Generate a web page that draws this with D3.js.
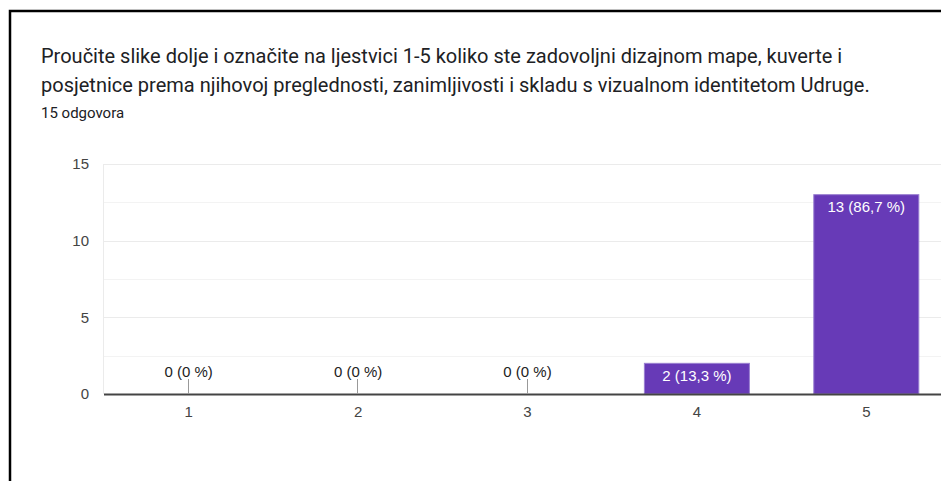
<!DOCTYPE html>
<html>
<head>
<meta charset="utf-8">
<script src="https://cdn.jsdelivr.net/npm/d3@7"></script>
<style>
  html, body { margin: 0; padding: 0; background: #fff; }
  svg { display: block; font-family: Roboto, "Noto Sans", Arial, sans-serif; }
</style>
</head>
<body>
<svg id="chart" width="941" height="481"></svg>
<script>
// Survey answers: rating scale 1-5, number of respondents per rating
const titleLines = [
  "Proučite slike dolje i označite na ljestvici 1-5 koliko ste zadovoljni dizajnom mape, kuverte i",
  "posjetnice prema njihovoj preglednosti, zanimljivosti i skladu s vizualnom identitetom Udruge."
];
const responsesLabel = "15 odgovora";
const categories = ["1", "2", "3", "4", "5"];
const counts = [0, 0, 0, 2, 13];
const percentLabels = ["0 %", "0 %", "0 %", "13,3 %", "86,7 %"];
const yTicks = [0, 5, 10, 15];
const yMinorTicks = [2.5, 7.5, 12.5];

const chartFont = "'Liberation Sans', Arial, sans-serif";
const svg = d3.select("#chart");
const W = 941, H = 481;

// card border (top and left edges visible)
svg.append("path")
  .attr("d", `M10,${H} L10,11 L${W},11`)
  .attr("fill", "none")
  .attr("stroke", "#000")
  .attr("stroke-width", 2.5);

// question title
svg.append("g").selectAll("text").data(titleLines).join("text")
  .attr("x", 41)
  .attr("y", (d, i) => 63 + i * 29)
  .attr("fill", "#202124")
  .attr("font-size", 20)
  .text(d => d);

svg.append("text")
  .attr("x", 41).attr("y", 118)
  .attr("fill", "#202124")
  .attr("font-size", 15)
  .text(responsesLabel);

// plot area
const plot = { left: 104, top: 164, bottom: 394, bandWidth: 169.4 };
const x = d3.scaleBand()
  .domain(categories)
  .range([plot.left, plot.left + plot.bandWidth * categories.length])
  .paddingInner(0.38)
  .paddingOuter(0.19);
const y = d3.scaleLinear().domain([0, 15]).range([plot.bottom, plot.top]);

// gridlines
const grid = svg.append("g");
grid.selectAll("line.minor").data(yMinorTicks).join("line")
  .attr("class", "minor")
  .attr("x1", plot.left).attr("x2", W)
  .attr("y1", d => Math.round(y(d)) + 0.5).attr("y2", d => Math.round(y(d)) + 0.5)
  .attr("stroke", "#f3f3f3");
grid.selectAll("line.major").data(yTicks.filter(t => t > 0)).join("line")
  .attr("class", "major")
  .attr("x1", plot.left).attr("x2", W)
  .attr("y1", d => Math.round(y(d)) + 0.5).attr("y2", d => Math.round(y(d)) + 0.5)
  .attr("stroke", "#ebebeb");
grid.append("line")
  .attr("x1", plot.left - 0.5).attr("x2", plot.left - 0.5)
  .attr("y1", y(15)).attr("y2", y(0))
  .attr("stroke", "#ebebeb");

// y axis labels
const yAxis = d3.axisLeft(y).tickValues(yTicks).tickSize(0).tickPadding(15);
svg.append("g")
  .attr("transform", `translate(${plot.left},0)`)
  .call(yAxis)
  .call(g => g.select(".domain").remove())
  .call(g => g.selectAll("text")
    .attr("font-family", chartFont)
    .attr("font-size", 15)
    .attr("fill", "#444"));

// bars
svg.append("g").selectAll("rect").data(counts).join("rect")
  .attr("x", (d, i) => x(categories[i]))
  .attr("width", x.bandwidth())
  .attr("y", d => y(d))
  .attr("height", d => y(0) - y(d))
  .attr("fill", "#673ab7")
  .attr("stroke", "#9a7fd1")
  .attr("stroke-width", 1)
  .attr("visibility", d => d > 0 ? "visible" : "hidden");

// x axis baseline and labels
const xAxis = d3.axisBottom(x).tickSize(0).tickPadding(12);
svg.append("g")
  .attr("transform", `translate(0,${y(0)})`)
  .call(xAxis)
  .call(g => g.select(".domain").remove())
  .call(g => g.selectAll("text")
    .attr("font-family", chartFont)
    .attr("font-size", 15)
    .attr("fill", "#444"));
svg.append("line")
  .attr("x1", plot.left).attr("x2", W)
  .attr("y1", y(0) + 0.5).attr("y2", y(0) + 0.5)
  .attr("stroke", "#444").attr("stroke-width", 2);

// value annotations
const ann = svg.append("g")
  .attr("font-family", chartFont)
  .attr("font-size", 15)
  .attr("text-anchor", "middle");
counts.forEach((d, i) => {
  const cx = x(categories[i]) + x.bandwidth() / 2;
  const label = `${d} (${percentLabels[i]})`;
  if (d > 0) {
    ann.append("text")
      .attr("x", cx).attr("y", y(d) + 17.5)
      .attr("fill", "#fff")
      .text(label);
  } else {
    ann.append("line")
      .attr("x1", Math.round(cx) - 0.5).attr("x2", Math.round(cx) - 0.5)
      .attr("y1", y(0) - 15).attr("y2", y(0))
      .attr("stroke", "#999");
    ann.append("text")
      .attr("x", cx).attr("y", y(0) - 17)
      .attr("fill", "#222")
      .text(label);
  }
});
</script>
</body>
</html>
